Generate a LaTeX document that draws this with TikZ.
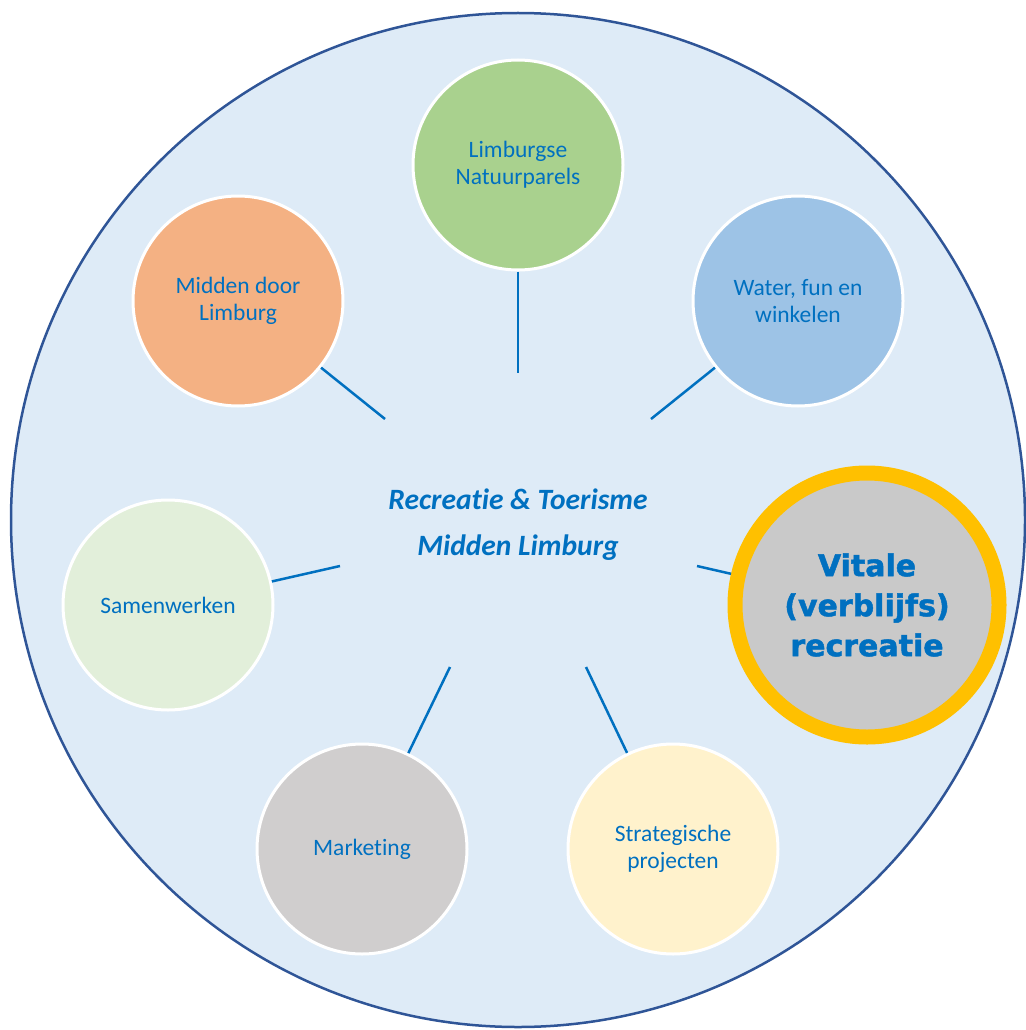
\documentclass[tikz,border=0pt]{standalone}
\usepackage{fontspec}
\usepackage{xcolor}
\usepackage{tikz}
\setmainfont{Carlito}[Ligatures=NoCommon]
\newfontfamily\heavyfont{DejaVu Sans}[BoldFeatures={FakeBold=1.6}]
\definecolor{rt-font}{RGB}{0,112,192}
\definecolor{rt-back}{RGB}{222,235,247}
\definecolor{rt-rim}{RGB}{47,85,151}
\definecolor{rt-green}{RGB}{169,209,142}
\definecolor{rt-orange}{RGB}{244,177,131}
\definecolor{rt-sky}{RGB}{157,195,230}
\definecolor{rt-mint}{RGB}{226,239,218}
\definecolor{rt-grey}{RGB}{208,206,206}
\definecolor{rt-cream}{RGB}{255,242,204}
\definecolor{rt-silver}{RGB}{201,201,201}
\definecolor{rt-gold}{RGB}{255,192,0}

\begin{document}
\begin{tikzpicture}[x=1pt, y=-1pt,
    theme/.style={circle, draw=white, line width=3pt, minimum size=210pt, align=center,
      text=rt-font, font=\fontsize{23.5}{27}\selectfont},
    spoke/.style={draw=rt-font, line width=2.5pt}]
  \useasboundingbox (0,0) rectangle (1025,1030);

  % Background disc
  \draw[fill=rt-back, draw=rt-rim, line width=2.5pt] (518,520) circle[radius=507pt];

  % Centre
  \node[font=\fontsize{29.5}{46}\selectfont\bfseries\itshape, text=rt-font, align=center] (title) at (518,525)
    {Recreatie \& Toerisme\\Midden Limburg};

  % Themes
  \node[theme, fill=rt-green] (natuur) at (518,165) {Limburgse\\Natuurparels};
  \node[theme, fill=rt-orange] (midden) at (238,301) {Midden door\\Limburg};
  \node[theme, fill=rt-sky] (water) at (798,301) {Water, fun en\\winkelen};
  \node[theme, fill=rt-mint] (samen) at (168,605) {Samenwerken};
  \node[theme, fill=rt-grey] (marketing) at (362,849) {Marketing};
  \node[theme, fill=rt-cream] (strategie) at (673,849) {Strategische\\projecten};

  % Highlighted theme
  \node[circle, fill=rt-silver, draw=rt-gold, line width=15pt, minimum size=264pt, align=center,
    text=rt-font, font=\heavyfont\bfseries\fontsize{30}{40}\selectfont] (vitale) at (867,605)
    {Vitale\\(verblijfs)\\recreatie};

  % Spoke ends
  \coordinate (in-natuur) at (518,373);
  \coordinate (in-midden) at (385,419);
  \coordinate (in-water) at (651,419);
  \coordinate (in-samen) at (340,566);
  \coordinate (in-vitale) at (697,566);
  \coordinate (in-marketing) at (450,667);
  \coordinate (in-strategie) at (586,667);

  % Spokes
  \draw[spoke] (natuur) -- (in-natuur);
  \draw[spoke] (midden) -- (in-midden);
  \draw[spoke] (water) -- (in-water);
  \draw[spoke] (samen) -- (in-samen);
  \draw[spoke] (vitale) -- (in-vitale);
  \draw[spoke] (marketing) -- (in-marketing);
  \draw[spoke] (strategie) -- (in-strategie);
\end{tikzpicture}
\end{document}
